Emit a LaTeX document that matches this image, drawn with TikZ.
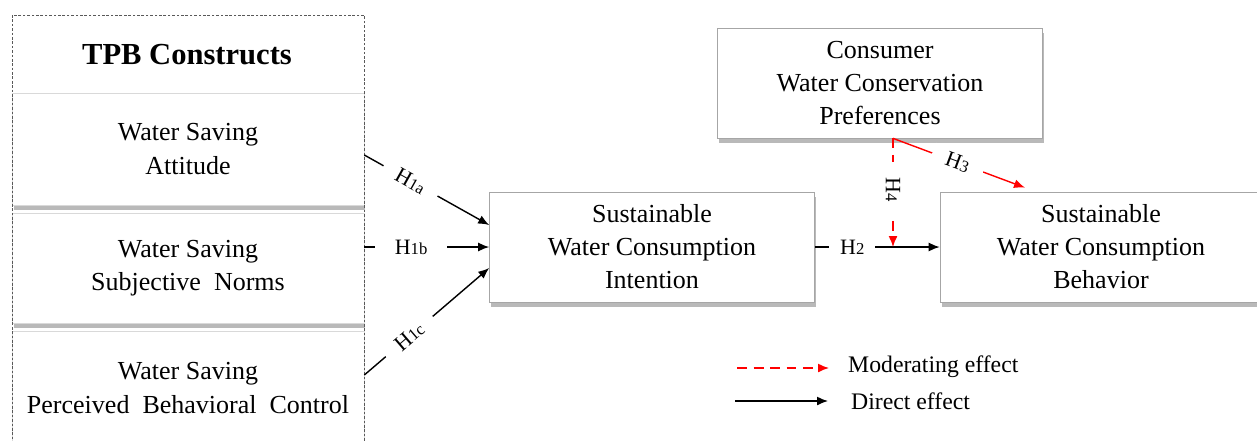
\documentclass[tikz,border=0pt]{standalone}
\usepackage{fontspec}
\setmainfont{Liberation Serif}
\usetikzlibrary{arrows.meta}
\usetikzlibrary{positioning}
\usetikzlibrary{shadows}
\tikzset{construct/.style = {fill=white, draw=gray!30, minimum width=7.04cm, align=center,
                             font=\fontsize{14.8}{18.8}\selectfont,
                             drop shadow={opacity=0.55, shadow xshift=0.03cm, shadow yshift=-0.1cm}}}
\tikzset{factor/.style = {construct, draw=gray!70, minimum width=6.5cm, minimum height=2.2cm}}
\tikzset{effect/.style = {line width=0.8pt, -{Latex[length=2.2mm, width=1.8mm]}}}
\tikzset{moderate/.style = {effect, red, dash pattern=on 2mm off 1.3mm}}
\tikzset{hyp/.style = {fill=white, inner xsep=0.3cm, inner ysep=2pt, text=black, font=\fontsize{12.5}{14}\selectfont}}
\newcommand{\hyp}[2]{H{\fontsize{9.5}{11}\selectfont #1#2}}

\begin{document}
\begin{tikzpicture}[x=0.02cm, y=-0.02cm]
      \useasboundingbox (0, 0) rectangle (1257, 440);

      % TPB constructs
      \node [construct, minimum height=2.24cm] (att) at (188, 149) {Water Saving\\Attitude};
      \node [construct, minimum height=2.2cm] (norms) at (188, 268) {Water Saving\\Subjective\ \ Norms};
      \node [construct, minimum height=2.28cm] (pbc) at (188, 388) {Water Saving\\Perceived\ \ Behavioral\ \ Control};
      \node [font=\fontsize{17.4}{20}\selectfont\bfseries] (tpb) at (187, 55) {TPB Constructs};
      \draw [gray!70!black, line width=0.5pt, dash pattern=on 1.5pt off 1pt] (12, 15) rectangle (364, 445);

      % outcomes and moderator
      \node [factor] (int) at (652, 247) {Sustainable\\Water Consumption\\Intention};
      \node [factor, minimum width=6.44cm] (beh) at (1101, 247) {Sustainable\\Water Consumption\\Behavior};
      \node [factor] (pref) at (880, 83) {Consumer\\Water Conservation\\Preferences};

      \draw [effect] ([yshift=-0.12cm]att.east) -- node [hyp, sloped, pos=0.37] {\hyp{1}{a}} ([yshift=0.44cm]int.west);
      \draw [effect] (norms.east |- int.west) -- node [hyp, inner xsep=0.4cm, pos=0.375] {\hyp{1}{b}} (int.west);
      \draw [effect] ([yshift=0.26cm]pbc.east) -- node [hyp, sloped, pos=0.36] {\hyp{1}{c}} ([yshift=-0.42cm]int.west);
      \draw [effect] (int.east) -- node [hyp, inner xsep=0.22cm, pos=0.3] {\hyp{2}{}} (beh.west);

      \coordinate (split) at ([xshift=0.26cm]pref.south);
      \draw [moderate] (split) -- node [hyp, sloped, pos=0.47] {\hyp{4}{}} (split |- int.east);
      \draw [effect, red] (split) -- node [hyp, sloped, pos=0.49] {\hyp{3}{}} ([xshift=-1.52cm, yshift=0.08cm]beh.north);

      % legend
      \coordinate (modA) at (737, 368);
      \coordinate (modB) at (829, 368);
      \coordinate (dirA) at (735, 401);
      \coordinate (dirB) at (828, 401);
      \draw [moderate] (modA) -- (modB);
      \draw [effect] (dirA) -- (dirB);
      \node [right, font=\fontsize{13.5}{16}\selectfont] (modtext) at (842, 367) {Moderating effect};
      \node [right, font=\fontsize{13.5}{16}\selectfont] (dirtext) at (845, 401) {Direct effect};
    \end{tikzpicture}
\end{document}
